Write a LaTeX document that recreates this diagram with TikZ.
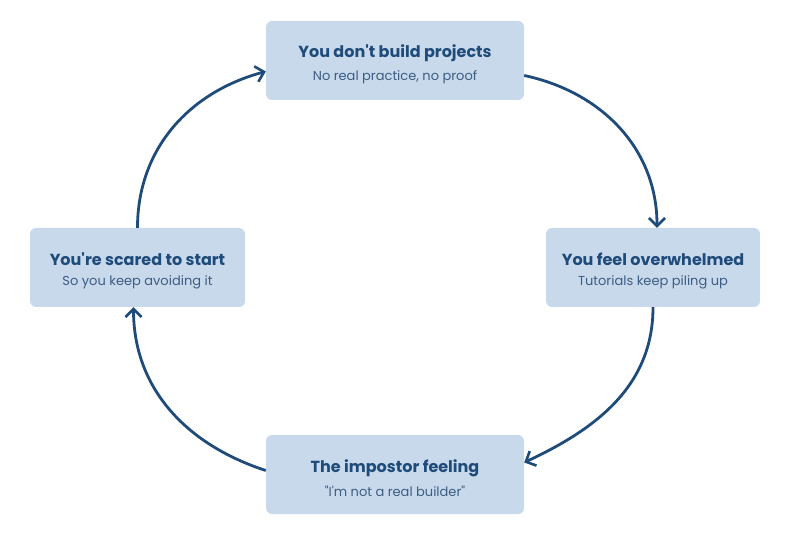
\documentclass[tikz,border=0pt]{standalone}
\usepackage{fontspec}
\setmainfont{Poppins}
\usetikzlibrary{arrows.meta}

\definecolor{boxfill}{HTML}{C8D9EB}
\definecolor{titleblue}{HTML}{1F4B7A}
\definecolor{subblue}{HTML}{3D5D82}
\definecolor{arrowblue}{HTML}{1F4B7A}

\newcommand{\steptext}[2]{{\fontsize{16}{19}\selectfont\bfseries\color{titleblue}\rule{0pt}{20pt}#1}\\[8pt]{\fontsize{13}{15}\selectfont\color{subblue}#2}}

\begin{document}
\begin{tikzpicture}[x=1pt, y=1pt,
    stepbox/.style={rectangle, rounded corners=6pt, fill=boxfill, minimum height=79pt, inner sep=0pt, align=center},
    cyclearrow/.style={draw=arrowblue, line width=2.8pt, -{Straight Barb[length=8pt, width=16pt, line width=2.6pt]}}]
      \useasboundingbox (0,0) rectangle (797,533);

      % Nodes
      \node[stepbox, minimum width=258pt] at (395, 472.5) (top) {\steptext{You don\textquotesingle t build projects}{No real practice, no proof}};
      \node[stepbox, minimum width=214pt] at (653, 265.5) (right) {\steptext{You feel overwhelmed}{Tutorials keep piling up}};
      \node[stepbox, minimum width=258pt] at (395, 58.5) (bottom) {\steptext{The impostor feeling}{\textquotedbl I\textquotesingle m not a real builder\textquotedbl}};
      \node[stepbox, minimum width=215pt] at (137.5, 265.5) (left) {\steptext{You\textquotesingle re scared to start}{So you keep avoiding it}};

      % Cycle
      \draw[cyclearrow] ([yshift=-15pt]top.east) to[out=-12, in=90] ([xshift=4pt]right.north);
      \draw[cyclearrow] (right.south) to[out=-90, in=25] ([yshift=12pt]bottom.east);
      \draw[cyclearrow] ([yshift=4pt]bottom.west) to[out=162, in=-90] ([xshift=-4pt]left.south);
      \draw[cyclearrow] (left.north) to[out=90, in=195] ([yshift=-11pt]top.west);
\end{tikzpicture}
\end{document}
